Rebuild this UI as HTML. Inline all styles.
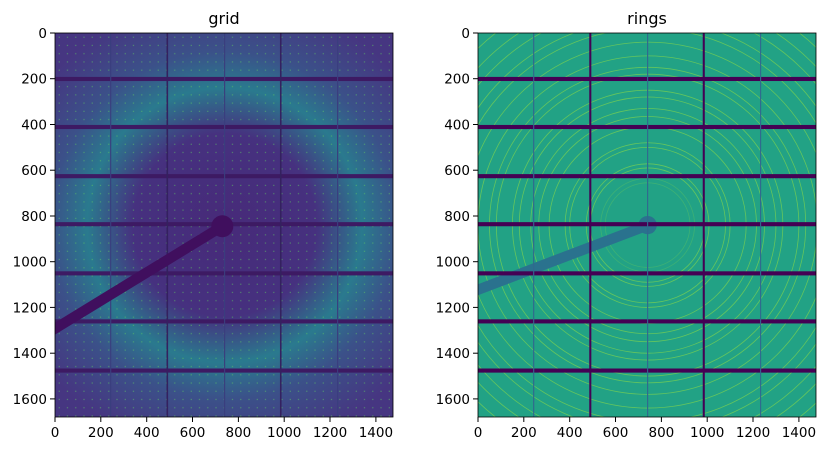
<!DOCTYPE html>
<html><head><style>
body{margin:0;background:#fff;}
svg text{font-family:"DejaVu Sans","Liberation Sans",sans-serif;font-size:13.5px;fill:#000;}
</style></head><body>
<svg width="826" height="451" xmlns="http://www.w3.org/2000/svg">
<defs>
<radialGradient id="halo" gradientUnits="userSpaceOnUse" cx="740" cy="840" r="1000">
<stop offset="0" stop-color="#472a79"/>
<stop offset="0.4" stop-color="#46317f"/>
<stop offset="0.6" stop-color="#2a7a8e"/>
<stop offset="0.76" stop-color="#3b5189"/>
<stop offset="1" stop-color="#463681"/>
</radialGradient>
<pattern id="dots" patternUnits="userSpaceOnUse" width="36" height="36">
<rect x="16" y="16" width="5" height="5" fill="#5ec962" opacity="0.6"/>
</pattern>
<clipPath id="c"><rect x="0" y="0" width="1475" height="1679"/></clipPath>
</defs>

<g transform="translate(55,33) scale(0.2292,0.2287)" clip-path="url(#c)">
<rect width="1475" height="1679" fill="url(#halo)"/>
<rect width="1475" height="1679" fill="url(#dots)"/>
<g fill="#3d1a63">
<rect x="0" y="192" width="1475" height="18"/>
<rect x="0" y="402" width="1475" height="18"/>
<rect x="0" y="617" width="1475" height="18"/>
<rect x="0" y="827" width="1475" height="18"/>
<rect x="0" y="1042" width="1475" height="18"/>
<rect x="0" y="1252" width="1475" height="18"/>
<rect x="0" y="1467" width="1475" height="18"/>
</g>
<g stroke="#3a3e7e" stroke-width="5">
<line x1="243" y1="0" x2="243" y2="1679"/><line x1="490" y1="0" x2="490" y2="1679" stroke="#34215f" stroke-width="7"/>
<line x1="740" y1="0" x2="740" y2="1679"/><line x1="985" y1="0" x2="985" y2="1679" stroke="#34215f" stroke-width="7"/>
<line x1="1233" y1="0" x2="1233" y2="1679"/>
</g>
<line x1="730" y1="845" x2="-20" y2="1305" stroke="#400f5e" stroke-width="45"/>
<circle cx="730" cy="845" r="48" fill="#400f5e"/>
</g>
<rect x="55" y="33" width="338" height="384" fill="none" stroke="#000" stroke-width="0.8"/>

<g transform="translate(478,33) scale(0.2292,0.2287)" clip-path="url(#c)">
<rect width="1475" height="1679" fill="#22a285"/>
<g fill="none" stroke="#7ad151" stroke-width="3.5" opacity="0.75">
<circle cx="740" cy="840" r="185" opacity="0.4"/>
<circle cx="740" cy="840" r="205" opacity="0.4"/>
<circle cx="740" cy="840" r="250"/>
<circle cx="740" cy="840" r="268"/>
<circle cx="740" cy="840" r="340"/>
<circle cx="740" cy="840" r="360"/>
<circle cx="740" cy="840" r="430"/>
<circle cx="740" cy="840" r="475"/>
<circle cx="740" cy="840" r="510"/>
<circle cx="740" cy="840" r="560"/>
<circle cx="740" cy="840" r="590"/>
<circle cx="740" cy="840" r="660"/>
<circle cx="740" cy="840" r="690"/>
<circle cx="740" cy="840" r="740"/>
<circle cx="740" cy="840" r="800"/>
<circle cx="740" cy="840" r="860"/>
<circle cx="740" cy="840" r="900"/>
<circle cx="740" cy="840" r="960"/>
<circle cx="740" cy="840" r="1010"/>
<circle cx="740" cy="840" r="1070"/>
</g>
<line x1="730" y1="845" x2="-20" y2="1130" stroke="#2a728e" stroke-width="45"/>
<circle cx="740" cy="840" r="40" fill="#2a728e"/>
<g fill="#440154">
<rect x="0" y="192" width="1475" height="18"/>
<rect x="0" y="402" width="1475" height="18"/>
<rect x="0" y="617" width="1475" height="18"/>
<rect x="0" y="827" width="1475" height="18"/>
<rect x="0" y="1042" width="1475" height="18"/>
<rect x="0" y="1252" width="1475" height="18"/>
<rect x="0" y="1467" width="1475" height="18"/>
</g>
<g stroke="#31688e" stroke-width="5">
<line x1="243" y1="0" x2="243" y2="1679"/><line x1="490" y1="0" x2="490" y2="1679" stroke="#440154" stroke-width="9"/>
<line x1="740" y1="0" x2="740" y2="1679"/><line x1="985" y1="0" x2="985" y2="1679" stroke="#440154" stroke-width="9"/>
<line x1="1233" y1="0" x2="1233" y2="1679"/>
</g>
</g>
<rect x="478" y="33" width="338" height="384" fill="none" stroke="#000" stroke-width="0.8"/>

<text x="224" y="24" text-anchor="middle" style="font-size:16px">grid</text>
<text x="647" y="24" text-anchor="middle" style="font-size:16px">rings</text>

<g id="axL" stroke="#000" stroke-width="1">
<line x1="55" y1="33" x2="50" y2="33"/><line x1="55" y1="78.7" x2="50" y2="78.7"/><line x1="55" y1="124.5" x2="50" y2="124.5"/><line x1="55" y1="170.2" x2="50" y2="170.2"/><line x1="55" y1="216" x2="50" y2="216"/><line x1="55" y1="261.7" x2="50" y2="261.7"/><line x1="55" y1="307.4" x2="50" y2="307.4"/><line x1="55" y1="353.2" x2="50" y2="353.2"/><line x1="55" y1="398.9" x2="50" y2="398.9"/>
<line x1="55" y1="417" x2="55" y2="422"/><line x1="100.8" y1="417" x2="100.8" y2="422"/><line x1="146.7" y1="417" x2="146.7" y2="422"/><line x1="192.5" y1="417" x2="192.5" y2="422"/><line x1="238.4" y1="417" x2="238.4" y2="422"/><line x1="284.2" y1="417" x2="284.2" y2="422"/><line x1="330" y1="417" x2="330" y2="422"/><line x1="375.9" y1="417" x2="375.9" y2="422"/>
</g>
<use href="#axL" transform="translate(423,0)"/>
<g id="lblL">
<g text-anchor="end">
<text x="47" y="38">0</text><text x="47" y="83.7">200</text><text x="47" y="129.5">400</text><text x="47" y="175.2">600</text><text x="47" y="221">800</text><text x="47" y="266.7">1000</text><text x="47" y="312.4">1200</text><text x="47" y="358.2">1400</text><text x="47" y="403.9">1600</text>
</g>
<g text-anchor="middle">
<text x="55" y="437">0</text><text x="100.8" y="437">200</text><text x="146.7" y="437">400</text><text x="192.5" y="437">600</text><text x="238.4" y="437">800</text><text x="284.2" y="437">1000</text><text x="330" y="437">1200</text><text x="375.9" y="437">1400</text>
</g>
</g>
<use href="#lblL" transform="translate(423,0)"/>
</svg>
</body></html>
